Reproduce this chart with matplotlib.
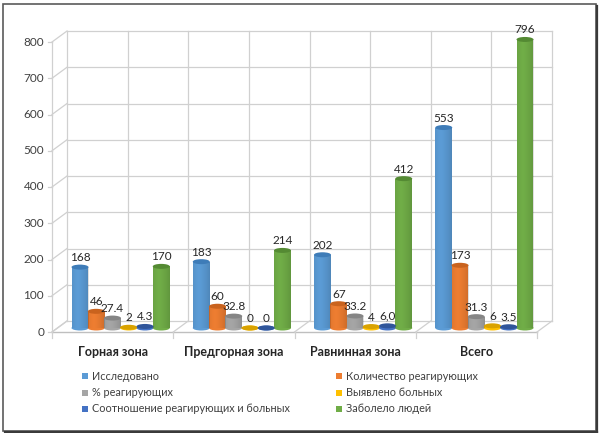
import matplotlib
matplotlib.use("Agg")
import matplotlib.pyplot as plt
import matplotlib.transforms as mtransforms
from matplotlib.patches import Rectangle, Ellipse
import numpy as np

plt.rcParams['font.family'] = ['Lato', 'DejaVu Sans']

categories = ["Горная зона", "Предгорная зона", "Равнинная зона", "Всего"]
series_names = ["Исследовано", "Количество реагирующих", "% реагирующих",
                "Выявлено больных", "Соотношение реагирующих и больных", "Заболело людей"]
investigated = [168, 183, 202, 553]
reacting = [46, 60, 67, 173]
pct_reacting = [27.4, 32.8, 33.2, 31.3]
sick_found = [2, 0, 4, 6]
ratio = [4.3, 0, 6.0, 3.5]
sick_people = [170, 214, 412, 796]
value_labels = [
    ["168", "183", "202", "553"],
    ["46", "60", "67", "173"],
    ["27.4", "32.8", "33.2", "31.3"],
    ["2", "0", "4", "6"],
    ["4.3", "0", "6,0", "3.5"],
    ["170", "214", "412", "796"],
]
yticks = [0, 100, 200, 300, 400, 500, 600, 700, 800]
colors = ["#5B9BD5", "#ED7D31", "#A5A5A5", "#FFC000", "#4472C4", "#70AD47"]
dark = ["#3E7CB8", "#C9631E", "#858585", "#D9A200", "#2F559A", "#548A33"]

series = [investigated, reacting, pct_reacting, sick_found, ratio, sick_people]

W, H = 600, 433
fig = plt.figure(figsize=(6, 4.33), dpi=100)
ax = fig.add_axes([52 / W, 1 - 332 / H, (537 - 52) / W, (332 - 42) / H])
ax.set_xlim(-0.5, 3.5)
ax.set_ylim(0, 800)
ax.axis("off")

dpi = 100
back = ax.transData + mtransforms.ScaledTranslation(15 / dpi, 11 / dpi, fig.dpi_scale_trans)
mid = ax.transData + mtransforms.ScaledTranslation(8 / dpi, 4 / dpi, fig.dpi_scale_trans)
grid_c = "#D0D0D0"

# back wall grid
for v in yticks:
    ax.plot([-0.5, 3.5], [v, v], color=grid_c, lw=0.9, transform=back, clip_on=False)
for xv in np.arange(-0.5, 3.51, 0.5):
    ax.plot([xv, xv], [0, 800], color=grid_c, lw=0.9, transform=back, clip_on=False)

# left side wall: diagonal lines from front axis to back wall
for v in yticks:
    p0 = ax.transData.transform((-0.5, v))
    p1 = back.transform((-0.5, v))
    inv = fig.transFigure.inverted()
    a = inv.transform(p0); b = inv.transform(p1)
    fig.add_artist(plt.Line2D([a[0], b[0]], [a[1], b[1]], color=grid_c, lw=0.9))
    c = inv.transform(p0 - np.array([4, 0]))
    fig.add_artist(plt.Line2D([c[0], a[0]], [c[1], a[1]], color=grid_c, lw=0.9))
ax.plot([-0.5, -0.5], [0, 800], color=grid_c, lw=0.9, clip_on=False)

# floor
inv = fig.transFigure.inverted()
for xv in np.arange(-0.5, 3.51, 1.0):
    p0 = ax.transData.transform((xv, 0)); p1 = back.transform((xv, 0))
    a = inv.transform(p0); b = inv.transform(p1)
    fig.add_artist(plt.Line2D([a[0], b[0]], [a[1], b[1]], color=grid_c, lw=0.9))
    d = inv.transform(p0 - np.array([0, 6]))
    fig.add_artist(plt.Line2D([a[0], d[0]], [a[1], d[1]], color=grid_c, lw=0.9))
ax.plot([-0.5, 3.5], [0, 0], color="#BFBFBF", lw=1.0, clip_on=False)

# y tick labels
for v in yticks:
    ax.text(-0.5, v, str(v), transform=ax.transData + mtransforms.ScaledTranslation(-8 / dpi, 0, fig.dpi_scale_trans),
            ha="right", va="center", fontsize=8.5, color="#404040")

# bars as cylinders
bw = 0.14
pitch = 0.134
px_per_unit = 290 / 800
eh = 5 / px_per_unit  # ellipse height in data units
for i, vals in enumerate(series):
    for j, v in enumerate(vals):
        xc = j + (i - 2.5) * pitch
        x0 = xc - bw / 2
        # bottom ellipse
        ax.add_patch(Ellipse((xc, 0), bw, eh, facecolor=colors[i], edgecolor="none",
                             transform=mid, clip_on=False, zorder=3))
        if v > 0:
            r = Rectangle((x0, 0), bw, v, facecolor=colors[i], edgecolor="none",
                          transform=mid, clip_on=False, zorder=3)
            ax.add_patch(r)
            # gradient shading
            grad = np.linspace(0, 1, 32)
            shade = 0.25 * (np.abs(grad - 0.35) ** 1.5)
            img = np.zeros((1, 32, 4))
            img[..., 3] = shade
            im = ax.imshow(img, extent=(x0, x0 + bw, 0, v), transform=mid, aspect="auto",
                           zorder=3.5, clip_on=True, interpolation="bilinear")
            im.set_clip_path(r)
        ax.add_patch(Ellipse((xc, v), bw, eh, facecolor=dark[i], edgecolor="none",
                             transform=mid, clip_on=False, zorder=4))
        ax.text(xc, v, value_labels[i][j],
                transform=mid + mtransforms.ScaledTranslation(0, 4 / dpi, fig.dpi_scale_trans),
                ha="center", va="bottom", fontsize=8.5, color="#262626", zorder=5)

ax.set_xlim(-0.5, 3.5)
ax.set_ylim(0, 800)

# category labels
for j, c in enumerate(categories):
    ax.text(j, 0, c, transform=ax.transData + mtransforms.ScaledTranslation(0, -20 / dpi, fig.dpi_scale_trans),
            ha="center", va="center", fontsize=9, fontweight="bold", color="#262626")

# legend
for i, name in enumerate(series_names):
    row, col = i // 2, i % 2
    xpx = 82 if col == 0 else 336
    ypx = 376 + row * 16.5
    fig.patches.append(Rectangle((xpx / W, 1 - (ypx + 3) / H), 6 / W, 6 / H,
                                 facecolor=colors[i], edgecolor="none", transform=fig.transFigure))
    fig.text((xpx + 10) / W, 1 - ypx / H, name, ha="left", va="center", fontsize=7.8, color="#404040")

# outer frame with shadow
fig.patches.append(Rectangle((3 / W, 1 - 431 / H), (596 - 3) / W, (431 - 4) / H,
                             facecolor="none", edgecolor="#5A5A5A", lw=1.2, transform=fig.transFigure))
fig.add_artist(plt.Line2D([596.8 / W, 596.8 / W], [1 - 432 / H, 1 - 6 / H], color="#3A3A3A", lw=1.6))
fig.add_artist(plt.Line2D([5 / W, 597 / W], [1 - 431.8 / H, 1 - 431.8 / H], color="#3A3A3A", lw=1.6))

fig.savefig("out.png", dpi=100)
